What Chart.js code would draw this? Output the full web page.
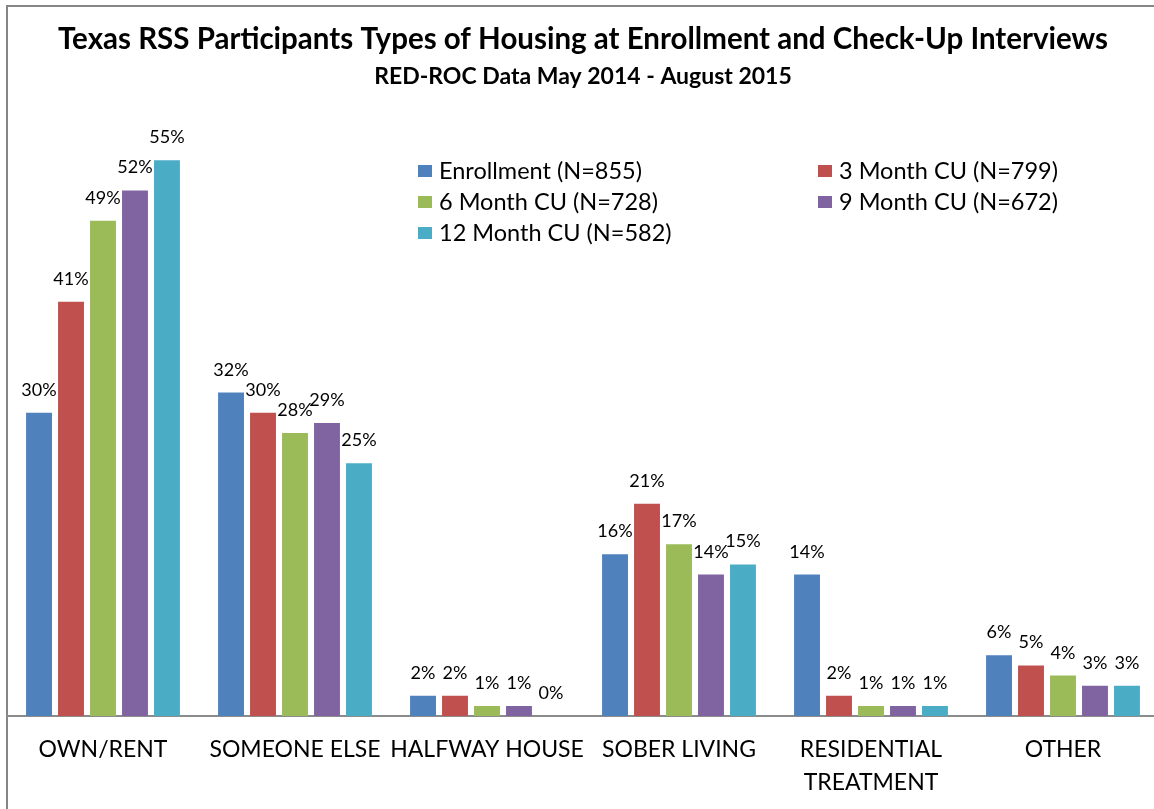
<!DOCTYPE html>
<html><head><meta charset="utf-8">
<script src="https://cdn.jsdelivr.net/npm/chart.js@4"></script>
<style>html,body{margin:0;padding:0;background:#fff;overflow:hidden}#wrap{width:1160px;height:809px}</style>
</head><body><div id="wrap"><canvas id="c" width="1160" height="809"></canvas></div>
<script>
const categories = ['OWN/RENT', 'SOMEONE ELSE', 'HALFWAY HOUSE', 'SOBER LIVING', ['RESIDENTIAL', 'TREATMENT'], 'OTHER'];
const seriesNames = ['Enrollment (N=855)', '3 Month CU (N=799)', '6 Month CU (N=728)', '9 Month CU (N=672)', '12 Month CU (N=582)'];
const enrollment = [30, 32, 2, 16, 14, 6];
const month3 = [41, 30, 2, 21, 2, 5];
const month6 = [49, 28, 1, 17, 1, 4];
const month9 = [52, 29, 1, 14, 1, 3];
const month12 = [55, 25, 0, 15, 1, 3];
const colors = ['#4F81BD', '#C0504D', '#9BBB59', '#8064A2', '#4BACC6'];
const FONT = 'Lato';

const seriesValues = [enrollment, month3, month6, month9, month12];

const framePlugin = {
  id: 'frame',
  beforeDraw(chart) {
    const ctx = chart.ctx;
    ctx.save();
    ctx.fillStyle = '#fff';
    ctx.fillRect(0, 0, chart.width, chart.height);
    ctx.strokeStyle = '#868686';
    ctx.lineWidth = 2;
    ctx.strokeRect(7, 6, chart.width + 50, chart.height + 50);
    ctx.restore();
  }
};

const valueLabels = {
  id: 'valueLabels',
  afterDatasetsDraw(chart) {
    const ctx = chart.ctx;
    ctx.save();
    ctx.font = '18px ' + FONT;
    ctx.fillStyle = '#000';
    ctx.textAlign = 'center';
    ctx.textBaseline = 'alphabetic';
    chart.data.datasets.forEach((ds, di) => {
      chart.getDatasetMeta(di).data.forEach((bar, i) => {
        ctx.fillText(ds.data[i] + '%', bar.x, bar.y - 17);
      });
    });
    ctx.restore();
  }
};

const customLegend = {
  id: 'customLegend',
  afterDraw(chart) {
    const ctx = chart.ctx;
    ctx.save();
    ctx.font = '23.5px ' + FONT;
    ctx.textBaseline = 'middle';
    ctx.textAlign = 'left';
    const colX = [418, 818];
    chart.data.datasets.forEach((ds, i) => {
      const col = i % 2, row = Math.floor(i / 2);
      const x = colX[col], y = 171 + row * 31;
      ctx.fillStyle = ds.backgroundColor;
      ctx.fillRect(x, y - 6, 14, 12);
      ctx.fillStyle = '#000';
      ctx.fillText(ds.label, x + 21, y);
    });
    ctx.restore();
  }
};

new Chart(document.getElementById('c'), {
  type: 'bar',
  data: {
    labels: categories,
    datasets: seriesNames.map((name, i) => ({
      label: name,
      data: seriesValues[i],
      backgroundColor: colors[i],
      borderWidth: 0,
      categoryPercentage: 0.833,
      barPercentage: 0.81
    }))
  },
  options: {
    responsive: false,
    animation: false,
    layout: { padding: { left: 7, right: 1, top: 0, bottom: 0 } },
    plugins: {
      legend: { display: false },
      tooltip: { enabled: false },
      title: {
        display: true,
        text: 'Texas RSS Participants Types of Housing at Enrollment and Check-Up Interviews',
        color: '#000',
        font: { family: FONT, size: 29.5, weight: 'bold', lineHeight: 1.2 },
        padding: { top: 21.8, bottom: 0 }
      },
      subtitle: {
        display: true,
        text: 'RED-ROC Data May 2014 - August 2015',
        color: '#000',
        font: { family: FONT, size: 23, weight: 'bold', lineHeight: 1.2 },
        padding: { top: 6, bottom: 18.8 }
      }
    },
    scales: {
      x: {
        grid: { display: false, drawTicks: false },
        border: { display: true, color: '#8c8c8c', width: 2 },
        ticks: { color: '#000', font: { family: FONT, size: 23, lineHeight: 1.435 }, padding: 17.5, maxRotation: 0, autoSkip: false },
        afterFit(scale) { scale.height = 93; }
      },
      y: {
        display: false,
        min: 0,
        max: 60
      }
    }
  },
  plugins: [framePlugin, valueLabels, customLegend]
});
</script>
</body></html>
